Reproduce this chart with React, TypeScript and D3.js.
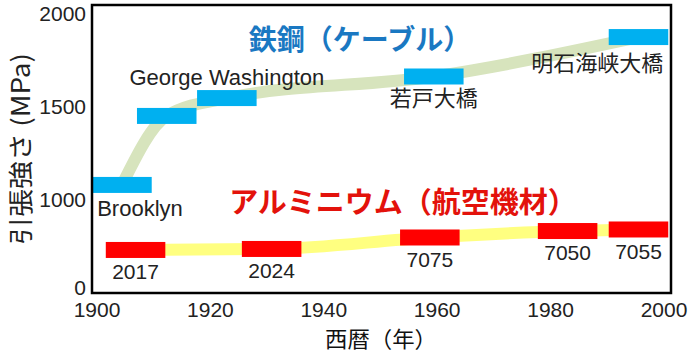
import * as d3 from 'd3';

// steel cable bridges
const steelNames = ['Brooklyn', '', 'George Washington', '若戸大橋', '明石海峡大橋'];
const steelYears = [1904.4, 1912.3, 1922.9, 1959.4, 1995.5];
const steelStrength = [1081, 1452, 1548, 1664, 1876];

// aluminium alloys for aircraft
const alumNames = ['2017', '2024', '7075', '7050', '7055'];
const alumYears = [1906.8, 1930.8, 1958.7, 1983.0, 1995.5];
const alumStrength = [451, 462, 588, 659, 676];

const xTicks = [1900, 1920, 1940, 1960, 1980, 2000];
const yTicks = [0, 1000, 1500, 2000];

const W = 693;
const H = 354;
const frame = { left: 92, top: 5, right: 671, bottom: 293 };
const barYears = 10.5;
const barH = 16;
const latin = "'Liberation Sans', Arial, 'Noto Sans CJK JP', sans-serif";
const cjk = "'Noto Sans CJK JP', 'Liberation Sans', sans-serif";

// label placement per bar: anchor and offset from bar
const steelPlace = [
  { anchor: 'start', side: 'below', off: 15 },
  { anchor: 'middle', side: 'below', off: 15 },
  { anchor: 'middle', side: 'above', off: 13 },
  { anchor: 'middle', side: 'below', off: 14 },
  { anchor: 'end', side: 'below', off: 18 },
];

export default function App() {
  const x = d3.scaleLinear().domain([1900, 2000]).range([97, 664]);
  // the original axis is drawn unevenly below 1000, so a piecewise scale
  const y = d3.scaleLinear().domain([0, 1000, 2000]).range([291, 200, 14]);

  const halfW = (x(1900 + barYears) - x(1900)) / 2;

  const steel = steelYears.map((yr, i) => ({ yr, v: steelStrength[i], name: steelNames[i] }));
  const alum = alumYears.map((yr, i) => ({ yr, v: alumStrength[i], name: alumNames[i] }));

  const trend = d3.line<{ yr: number; v: number }>()
    .x(d => x(d.yr))
    .y(d => y(d.v))
    .curve(d3.curveMonotoneX);

  return (
    <svg width={W} height={H} style={{ position: 'absolute', left: 0, top: 0, background: '#fff' }}>
      {/* trend bands */}
      <path d={trend(steel) || ''} fill="none" stroke="#d7e4bd" strokeWidth={12} />
      <path d={trend(alum) || ''} fill="none" stroke="#ffff80" strokeWidth={12} />

      {/* steel bars */}
      {steel.map((d, i) => {
        const cx = x(d.yr);
        const top = y(d.v) - barH / 2;
        const p = steelPlace[i];
        const tx = p.anchor === 'start' ? cx - halfW + 5 : p.anchor === 'end' ? cx + halfW - 5 : cx;
        const ty = p.side === 'below' ? top + barH + p.off : top - p.off;
        const isCjk = /[^\x00-\x7f]/.test(d.name);
        const left = Math.max(cx - halfW, frame.left);
        return (
          <g key={'s' + i}>
            <rect x={left} y={top} width={cx + halfW - left} height={barH} fill="#00b0f0" />
            {d.name && (
              <text x={tx} y={ty} dy="0.35em" textAnchor={p.anchor} fontFamily={isCjk ? cjk : latin}
                fontSize={22} fill="#222">{d.name}</text>
            )}
          </g>
        );
      })}

      {/* aluminium bars */}
      {alum.map((d, i) => {
        const cx = x(d.yr);
        const top = y(d.v) - barH / 2;
        return (
          <g key={'a' + i}>
            <rect x={cx - halfW} y={top} width={halfW * 2} height={barH} fill="#ff0000" />
            <text x={cx} y={top + barH + 14} dy="0.35em" textAnchor="middle" fontFamily={latin}
              fontSize={21} fill="#222">{d.name}</text>
          </g>
        );
      })}

      {/* titles */}
      <text x={360} y={40} dy="0.35em" textAnchor="middle" fontFamily={cjk} fontWeight="bold"
        fontSize={28} fill="#1a78c2">鉄鋼（ケーブル）</text>
      <text x={403} y={203} dy="0.35em" textAnchor="middle" fontFamily={cjk} fontWeight="bold"
        fontSize={29} fill="#e3120b">アルミニウム（航空機材）</text>

      {/* frame */}
      <rect x={frame.left} y={frame.top} width={frame.right - frame.left} height={frame.bottom - frame.top}
        fill="none" stroke="#000" strokeWidth={2.5} />

      {/* axes */}
      {yTicks.map(t => (
        <text key={'y' + t} x={86} y={t === 0 ? y(t) - 3 : y(t)} dy="0.35em" textAnchor="end" fontFamily={latin}
          fontSize={21} fill="#222">{t}</text>
      ))}
      {xTicks.map(t => (
        <text key={'x' + t} x={x(t)} y={310} dy="0.35em" textAnchor="middle" fontFamily={latin}
          fontSize={21} fill="#222">{t}</text>
      ))}
      <text x={381} y={339} dy="0.35em" textAnchor="middle" fontFamily={cjk} fontSize={22}
        textLength={112} lengthAdjust="spacingAndGlyphs" fill="#111">西暦（年）</text>
      <text transform="translate(21,149) rotate(-90)" dy="0.35em" textAnchor="middle" fontFamily={cjk}
        fontSize={25} textLength={192} lengthAdjust="spacingAndGlyphs" fill="#222">引張強さ (MPa)</text>
    </svg>
  );
}
